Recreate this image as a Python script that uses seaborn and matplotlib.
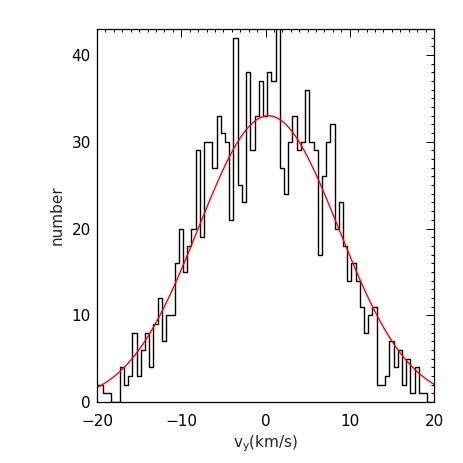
import numpy as np
import pandas as pd
import matplotlib.pyplot as plt
import seaborn as sns
from matplotlib.ticker import MultipleLocator

# histogram of v_y, bins of 0.5 km/s starting at -20.3
bin_start = -20.3
bin_width = 0.5
counts = [2, 2, 1, 1, 0, 0, 4, 2, 3, 8, 3, 6, 8, 4, 9, 12,
          7, 10, 10, 16, 20, 15, 18, 20, 29, 19,
          30, 30, 27, 33, 31, 30, 21, 42, 25, 23,
          38, 29, 33, 37, 33, 38, 37, 46, 27, 24,
          30, 33, 29, 30, 36, 30, 29, 17, 26, 30,
          32, 20, 23, 18, 14, 16, 14, 11, 8, 10,
          11, 2, 2, 3, 7, 4, 6, 2, 5, 1,
          4, 1, 1, 0, 0]

# gaussian fit
fit_amp = 33.0
fit_mu = 0.35
fit_sigma = 8.33

edges = bin_start + bin_width * np.arange(len(counts) + 1)
centers = (edges[:-1] + edges[1:]) / 2
hist_df = pd.DataFrame({'vy': centers, 'n': counts})

xfit = np.linspace(-20, 20, 400)
fit_df = pd.DataFrame({'vy': xfit,
                       'n': fit_amp * np.exp(-(xfit - fit_mu) ** 2 / (2 * fit_sigma ** 2))})

sns.set_style("white")
plt.rcParams['font.family'] = ['DejaVu Sans']

fig = plt.figure(figsize=(4.63, 4.63), dpi=100)
ax = fig.add_axes([97 / 463, 1 - 402 / 463, 337 / 463, 373 / 463])

sns.histplot(data=hist_df, x='vy', weights='n', binwidth=bin_width,
             binrange=(float(edges[0]), float(edges[-1])), element='step',
             fill=False, color='black', linewidth=1.0, ax=ax)
sns.lineplot(data=fit_df, x='vy', y='n', color='red', linewidth=1.0, ax=ax)

ax.set_xlim(-20, 20)
ax.set_ylim(0, 43)
ax.xaxis.set_major_locator(MultipleLocator(10))
ax.xaxis.set_minor_locator(MultipleLocator(1))
ax.yaxis.set_major_locator(MultipleLocator(10))
ax.yaxis.set_minor_locator(MultipleLocator(1))
ax.tick_params(which='both', direction='in', top=True, right=True, colors='black')
ax.tick_params(which='major', length=5.5, width=0.7, labelsize=11)
ax.tick_params(which='minor', length=2.5, width=0.7)
ax.tick_params(axis='x', which='major', pad=8.5)
ax.tick_params(axis='y', which='major', pad=4.5)
for s in ax.spines.values():
    s.set_color('black')
    s.set_linewidth(0.9)

ax.set_xlabel(r'$\mathregular{v_y}$(km/s)', fontsize=11, labelpad=3)
ax.set_ylabel('number', fontsize=11, labelpad=5)

plt.savefig('out.png', dpi=100)
